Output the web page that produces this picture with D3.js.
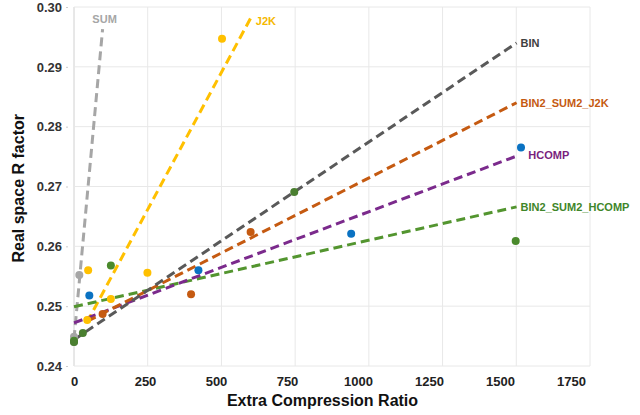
<!DOCTYPE html>
<html>
<head>
<meta charset="utf-8">
<script src="https://cdn.jsdelivr.net/npm/d3@7"></script>
<style>
  body { margin: 0; background: #fff; }
  text { font-family: "Liberation Sans", Arial, sans-serif; }
</style>
</head>
<body>
<svg id="chart" width="640" height="415"></svg>
<script>
// tick values
const xTicks = [0, 250, 500, 750, 1000, 1250, 1500, 1750];
const yTicks = [0.24, 0.25, 0.26, 0.27, 0.28, 0.29, 0.30];

// measured points, [compression ratio, R factor]
const sumPoints = [[0, 0.2440], [0, 0.2449], [18, 0.2552]];
const j2kPoints = [[45, 0.2477], [48, 0.2560], [125, 0.2512], [249, 0.2556], [502, 0.2947]];
const binPoints = [[0, 0.2440], [30, 0.2455], [747, 0.2691]];
const bsj2kPoints = [[97, 0.2487], [397, 0.2520], [599, 0.2624]];
const hcompPoints = [[52, 0.2518], [422, 0.2560], [940, 0.2621], [1516, 0.2765]];
const bshcompPoints = [[0, 0.2442], [125, 0.2568], [1498, 0.2609]];

// trend lines, start and end
const sumTrend = [[0, 0.2445], [97, 0.2963]];
const j2kTrend = [[44, 0.2473], [603, 0.2985]];
const binTrend = [[0, 0.2444], [1501, 0.2940]];
const bsj2kTrend = [[46, 0.2475], [1501, 0.2840]];
const hcompTrend = [[0, 0.2472], [1507, 0.2752]];
const bshcompTrend = [[0, 0.2499], [1501, 0.2666]];

const series = [
  { name: 'SUM', points: sumPoints, trend: sumTrend, line: '#a6a6a6', dot: '#a6a6a6', text: '#a6a6a6', label: 'above' },
  { name: 'J2K', points: j2kPoints, trend: j2kTrend, line: '#ffc000', dot: '#ffc000', text: '#f5b800', label: 'right', dy: 5 },
  { name: 'BIN2_SUM2_HCOMP', points: bshcompPoints, trend: bshcompTrend, line: '#53952f', dot: '#4a8a2c', text: '#3f862a', label: 'right' },
  { name: 'HCOMP', points: hcompPoints, trend: hcompTrend, line: '#7b2a8c', dot: '#0a72c2', text: '#7a1f7e', label: 'right', dx: 6 },
  { name: 'BIN2_SUM2_J2K', points: bsj2kPoints, trend: bsj2kTrend, line: '#c55a11', dot: '#c55a11', text: '#c55a11', label: 'right' },
  { name: 'BIN', points: binPoints, trend: binTrend, line: '#595959', dot: '#4a7f30', text: '#404040', label: 'right' }
];

const margin = { top: 7, right: 50, bottom: 49, left: 74 };
const width = 640 - margin.left - margin.right;
const height = 415 - margin.top - margin.bottom;

const svg = d3.select('#chart');
const g = svg.append('g').attr('transform', `translate(${margin.left},${margin.top})`);

const x = d3.scaleLinear().domain([0, 1750]).range([0, width]);
const y = d3.scaleLinear().domain([0.24, 0.30]).range([height, 0]);
// tick labels sit a bit left of the grid in the original
const xLabel = d3.scaleLinear().domain([0, 1750]).range([0, width - 19]);

// grid
g.append('g')
  .selectAll('line')
  .data(xTicks)
  .enter()
  .append('line')
  .attr('x1', d => x(d)).attr('x2', d => x(d))
  .attr('y1', 0).attr('y2', height)
  .attr('stroke', d => d === 0 ? '#d0d0d0' : '#e8e8e8')
  .attr('stroke-width', 1);

g.append('g')
  .selectAll('line')
  .data(yTicks)
  .enter()
  .append('line')
  .attr('x1', 0).attr('x2', width)
  .attr('y1', d => y(d)).attr('y2', d => y(d))
  .attr('stroke', '#e8e8e8')
  .attr('stroke-width', 1);

// axes
const yAxis = g.append('g')
  .attr('transform', 'translate(-6,0)')
  .call(d3.axisLeft(y).tickValues(yTicks).tickFormat(d3.format('.2f')).tickSize(2).tickPadding(4));
yAxis.select('.domain').remove();
yAxis.selectAll('line').attr('stroke', '#cccccc');
yAxis.selectAll('text')
  .attr('font-size', 13)
  .attr('font-weight', 'bold')
  .attr('fill', '#333');

const xAxis = g.append('g')
  .attr('transform', `translate(0,${height})`)
  .call(d3.axisBottom(xLabel).tickValues(xTicks).tickFormat(d3.format('d')).tickSize(0).tickPadding(11));
xAxis.select('.domain').remove();
xAxis.selectAll('text')
  .attr('font-size', 13)
  .attr('font-weight', 'bold')
  .attr('fill', '#222');

// axis titles
svg.append('text')
  .attr('x', margin.left + xLabel(875))
  .attr('y', 406)
  .attr('text-anchor', 'middle')
  .attr('font-size', 16)
  .attr('font-weight', 'bold')
  .attr('fill', '#111')
  .text('Extra Compression Ratio');

svg.append('text')
  .attr('transform', `translate(24,${margin.top + y(0.2697)}) rotate(-90)`)
  .attr('text-anchor', 'middle')
  .attr('font-size', 16)
  .attr('font-weight', 'bold')
  .attr('fill', '#111')
  .text('Real space R factor');

// trend lines
const line = d3.line()
  .x(d => x(d[0]))
  .y(d => y(d[1]));

g.append('g')
  .selectAll('path')
  .data(series)
  .enter()
  .append('path')
  .attr('d', s => line(s.trend))
  .attr('fill', 'none')
  .attr('stroke', s => s.line)
  .attr('stroke-width', 3)
  .attr('stroke-dasharray', '9,5');

// points
series.forEach(s => {
  g.append('g')
    .selectAll('circle')
    .data(s.points)
    .enter()
    .append('circle')
    .attr('cx', d => x(d[0]))
    .attr('cy', d => y(d[1]))
    .attr('r', 4)
    .attr('fill', s.dot);
});

// end labels
g.append('g')
  .selectAll('text')
  .data(series)
  .enter()
  .append('text')
  .attr('x', s => {
    const end = s.trend[1];
    return s.label === 'above' ? x(end[0]) + 2 : x(end[0]) + 4 + (s.dx || 0);
  })
  .attr('y', s => {
    const end = s.trend[1];
    return s.label === 'above' ? y(end[1]) - 10 : y(end[1]) + (s.dy || 0);
  })
  .attr('dy', '0.35em')
  .attr('text-anchor', s => s.label === 'above' ? 'middle' : 'start')
  .attr('font-size', 11)
  .attr('font-weight', 'bold')
  .attr('fill', s => s.text)
  .text(s => s.name);
</script>
</body>
</html>
